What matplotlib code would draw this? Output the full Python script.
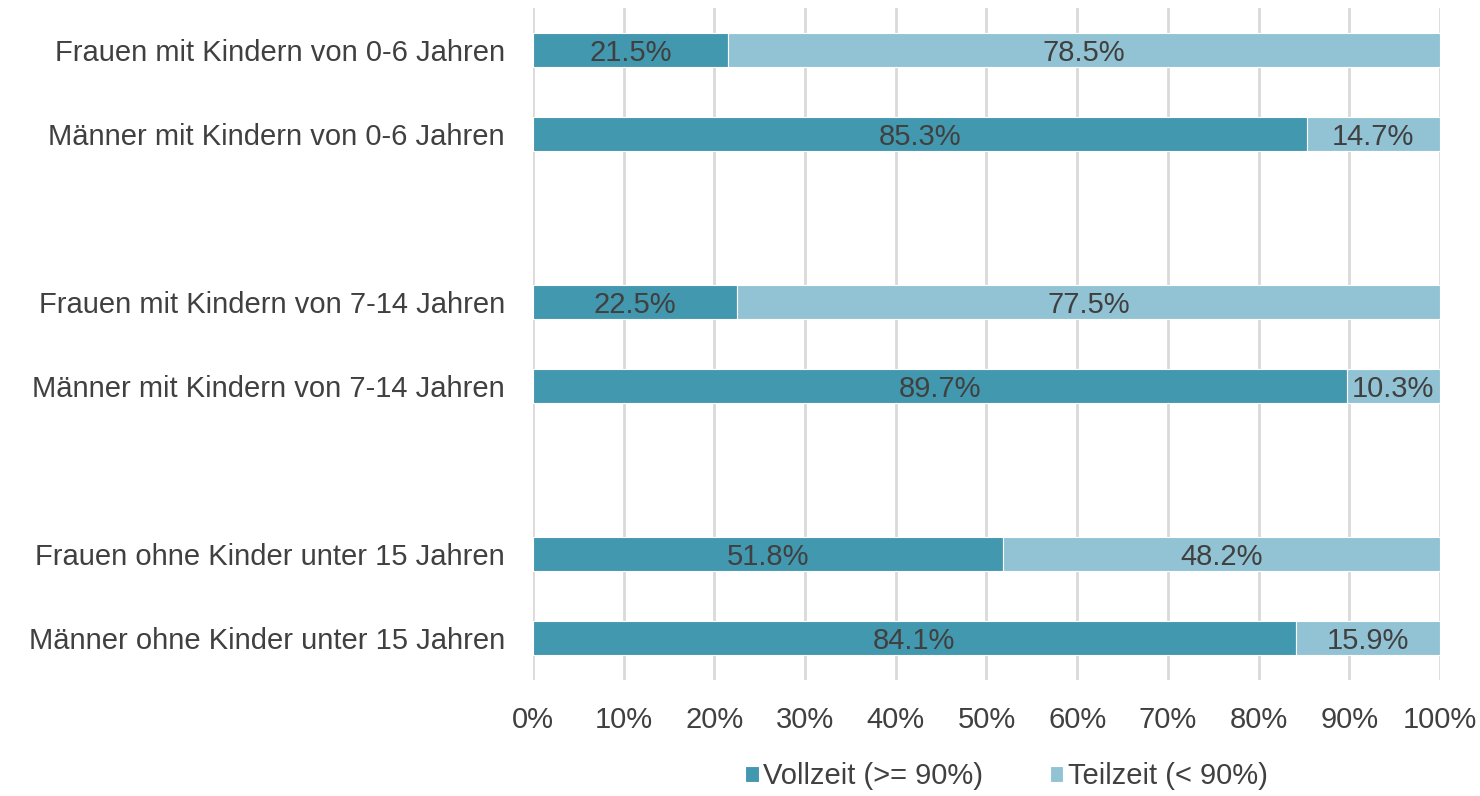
import numpy as np
import matplotlib.pyplot as plt
from matplotlib.ticker import PercentFormatter

plt.rcParams['font.family'] = ['Liberation Sans', 'DejaVu Sans']

categories = ['Frauen mit Kindern von 0-6 Jahren',
              'Männer mit Kindern von 0-6 Jahren',
              '',
              'Frauen mit Kindern von 7-14 Jahren',
              'Männer mit Kindern von 7-14 Jahren',
              '',
              'Frauen ohne Kinder unter 15 Jahren',
              'Männer ohne Kinder unter 15 Jahren']
vollzeit = [21.5, 85.3, np.nan, 22.5, 89.7, np.nan, 51.8, 84.1]
teilzeit = [78.5, 14.7, np.nan, 77.5, 10.3, np.nan, 48.2, 15.9]

dark = '#4298AF'
light = '#92C3D4'
txt = '#404040'

fig = plt.figure(figsize=(14.8, 7.96), dpi=100)
ax = fig.add_axes([0.360, 0.146, 0.613, 0.844])

y = np.arange(len(categories))
h = 0.41
b1 = ax.barh(y, vollzeit, height=h, color=dark, edgecolor='white', linewidth=0.8,
             label='Vollzeit (>= 90%)', zorder=3)
b2 = ax.barh(y, teilzeit, left=vollzeit, height=h, color=light, edgecolor='white',
             linewidth=0.8, label='Teilzeit (< 90%)', zorder=3)

for bars in (b1, b2):
    for r in bars:
        w = r.get_width()
        if np.isnan(w):
            continue
        ax.text(r.get_x() + w / 2, r.get_y() + r.get_height() / 2, f'{w:.1f}%',
                ha='center', va='center_baseline', fontsize=21, color=txt, zorder=4)

ax.set_xlim(0, 100)
ax.set_ylim(len(categories) - 0.5, -0.5)
ax.set_xticks(np.arange(0, 101, 10))
ax.xaxis.set_major_formatter(PercentFormatter(decimals=0))
ax.set_yticks([i for i, c in enumerate(categories) if c])
ax.set_yticklabels([c for c in categories if c])
ax.tick_params(axis='both', length=0, labelsize=21, colors=txt)
ax.tick_params(axis='y', pad=20)
ax.tick_params(axis='x', pad=19)
ax.grid(axis='x', color='#D9D9D9', linewidth=2, zorder=0)
for s in ax.spines.values():
    s.set_visible(False)

fig.legend(*ax.get_legend_handles_labels(), loc='center', bbox_to_anchor=(0.68, 0.025),
           ncol=2, frameon=False, fontsize=21, labelcolor=txt, handlelength=0.45,
           handleheight=0.45, handletextpad=0.15, columnspacing=2.3)

fig.savefig('out.png', dpi=100)
